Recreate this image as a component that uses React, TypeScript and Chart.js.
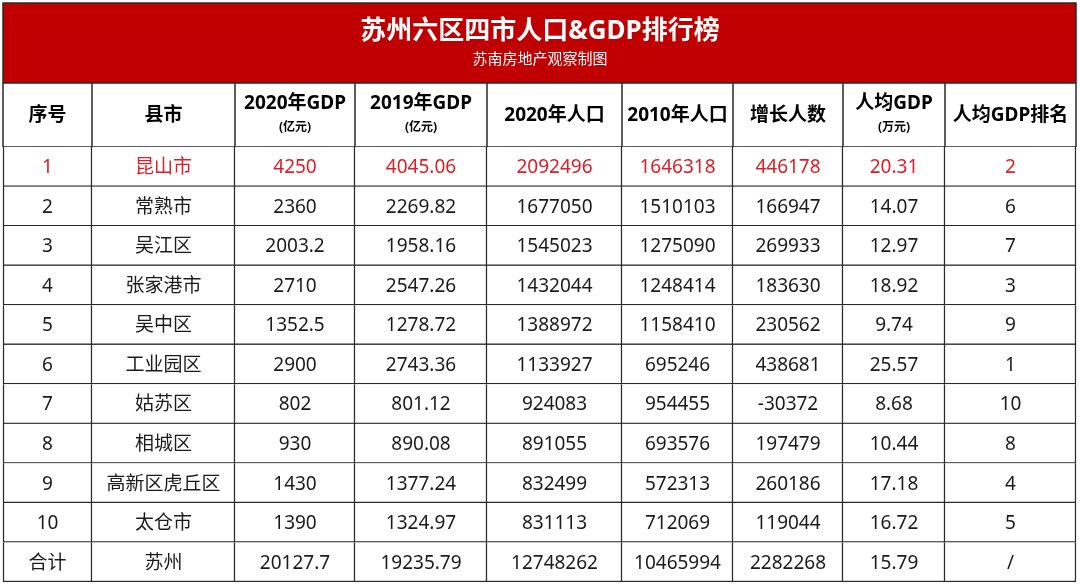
import React, { useEffect, useRef } from "react";
import { Chart, registerables } from "chart.js";

Chart.register(...registerables);

// ---------- data ----------
const titleText = "苏州六区四市人口&GDP排行榜";
const subtitleText = "苏南房地产观察制图";
const columnNames = ["序号", "县市", "2020年GDP", "2019年GDP", "2020年人口", "2010年人口", "增长人数", "人均GDP", "人均GDP排名"];
const columnUnits = ["", "", "(亿元)", "(亿元)", "", "", "", "(万元)", ""];
const seqNo = ["1", "2", "3", "4", "5", "6", "7", "8", "9", "10", "合计"];
const counties = ["昆山市", "常熟市", "吴江区", "张家港市", "吴中区", "工业园区", "姑苏区", "相城区", "高新区虎丘区", "太仓市", "苏州"];
const gdp2020 = [4250, 2360, 2003.2, 2710, 1352.5, 2900, 802, 930, 1430, 1390, 20127.7];
const gdp2019 = [4045.06, 2269.82, 1958.16, 2547.26, 1278.72, 2743.36, 801.12, 890.08, 1377.24, 1324.97, 19235.79];
const pop2020 = [2092496, 1677050, 1545023, 1432044, 1388972, 1133927, 924083, 891055, 832499, 831113, 12748262];
const pop2010 = [1646318, 1510103, 1275090, 1248414, 1158410, 695246, 954455, 693576, 572313, 712069, 10465994];
const growth = [446178, 166947, 269933, 183630, 230562, 438681, -30372, 197479, 260186, 119044, 2282268];
const perCapitaGdp = [20.31, 14.07, 12.97, 18.92, 9.74, 25.57, 8.68, 10.44, 17.18, 16.72, 15.79];
const perCapitaRank = ["2", "6", "7", "3", "9", "1", "10", "8", "4", "5", "/"];

const tableColumns: (string | number)[][] = [seqNo, counties, gdp2020, gdp2019, pop2020, pop2010, growth, perCapitaGdp, perCapitaRank];

// ---------- layout ----------
const W = 1080;
const H = 584;
const COL_EDGES = [3, 92, 235, 355, 487, 622, 733, 843, 945, 1076];
const BAND_TOP = 3;
const BAND_BOTTOM = 83;
const HEADER_BOTTOM = 147;
const TABLE_BOTTOM = 582;
const RED_BG = "#C00000";
const RED_TEXT = "#DC1E26";
const TEXT = "#1b1b1b";
const LINE = "#2a2a2a";
const CJK = '"Noto Sans", "Noto Sans CJK SC", sans-serif';

export default function App() {
  const ref = useRef<HTMLCanvasElement>(null);

  useEffect(() => {
    document.body.style.margin = "0";
    const canvas = ref.current!;

    const decor = {
      id: "tableDecor",
      beforeDraw(chart: any) {
        const ctx = chart.ctx as CanvasRenderingContext2D;
        const xs = chart.scales.x;
        ctx.save();
        ctx.fillStyle = "#fff";
        ctx.fillRect(0, 0, W, H);
        const left = xs.getPixelForValue(COL_EDGES[0]);
        const right = xs.getPixelForValue(COL_EDGES[COL_EDGES.length - 1]);
        // title band
        ctx.fillStyle = RED_BG;
        ctx.fillRect(left, BAND_TOP, right - left, BAND_BOTTOM - BAND_TOP);
        ctx.strokeStyle = LINE;
        ctx.lineWidth = 1.5;
        ctx.strokeRect(left, BAND_TOP, right - left, BAND_BOTTOM - BAND_TOP);
        ctx.fillStyle = "#fff";
        ctx.textAlign = "center";
        ctx.textBaseline = "middle";
        ctx.font = `bold 26px ${CJK}`;
        ctx.fillText(titleText, W / 2, 32);
        ctx.font = `15px ${CJK}`;
        ctx.fillText(subtitleText, W / 2, 60);

        // header row
        ctx.strokeStyle = LINE;
        ctx.lineWidth = 1.5;
        ctx.beginPath();
        for (let i = 0; i < COL_EDGES.length; i++) {
          const px = xs.getPixelForValue(COL_EDGES[i]);
          ctx.moveTo(px, BAND_BOTTOM);
          ctx.lineTo(px, HEADER_BOTTOM);
        }
        ctx.moveTo(left, HEADER_BOTTOM);
        ctx.lineTo(right, HEADER_BOTTOM);
        ctx.stroke();

        ctx.fillStyle = "#000";
        const midY = (BAND_BOTTOM + HEADER_BOTTOM) / 2;
        for (let c = 0; c < columnNames.length; c++) {
          const x0 = xs.getPixelForValue(COL_EDGES[c]);
          const x1 = xs.getPixelForValue(COL_EDGES[c + 1]);
          const cx = (x0 + x1) / 2;
          if (columnUnits[c]) {
            ctx.font = `bold 19px ${CJK}`;
            ctx.fillText(columnNames[c], cx, midY - 11);
            ctx.font = `bold 12px ${CJK}`;
            ctx.fillText(columnUnits[c], cx, midY + 13);
          } else {
            ctx.font = `bold 19px ${CJK}`;
            ctx.fillText(columnNames[c], cx, midY + 1);
          }
        }
        ctx.restore();
      },
      afterDatasetsDraw(chart: any) {
        const ctx = chart.ctx as CanvasRenderingContext2D;
        ctx.save();
        ctx.textAlign = "center";
        ctx.textBaseline = "middle";
        ctx.font = `19px ${CJK}`;
        chart.data.datasets.forEach((ds: any, c: number) => {
          const meta = chart.getDatasetMeta(c);
          meta.data.forEach((el: any, r: number) => {
            const p = el.getProps(["x", "y", "base"], true);
            const cx = (p.x + p.base) / 2;
            ctx.fillStyle = r === 0 ? RED_TEXT : TEXT;
            ctx.fillText(String(tableColumns[c][r]), cx, p.y + 1);
          });
        });
        ctx.restore();
      },
    };

    const datasets = tableColumns.map((col, c) => ({
      label: columnNames[c],
      data: col.map(() => [COL_EDGES[c], COL_EDGES[c + 1]]),
      backgroundColor: "#ffffff",
      borderColor: LINE,
      borderWidth: { top: 0, right: 1.5, bottom: 1.5, left: c === 0 ? 1.5 : 0 },
      borderSkipped: false,
      barPercentage: 1,
      categoryPercentage: 1,
      grouped: false,
    }));

    const chart = new Chart(canvas, {
      type: "bar",
      data: { labels: seqNo, datasets: datasets as any },
      plugins: [decor],
      options: {
        indexAxis: "y",
        responsive: false,
        animation: false,
        devicePixelRatio: 1,
        layout: { padding: { top: HEADER_BOTTOM, bottom: H - TABLE_BOTTOM, left: 0, right: 0 } },
        scales: {
          x: { type: "linear", min: 0, max: W, display: false },
          y: { type: "category", display: false, offset: true },
        },
        plugins: { legend: { display: false }, tooltip: { enabled: false }, title: { display: false } },
      },
    });
    return () => chart.destroy();
  }, []);

  return (
    <div style={{ width: W, height: H }}>
      <canvas ref={ref} width={W} height={H} style={{ display: "block" }} />
    </div>
  );
}
